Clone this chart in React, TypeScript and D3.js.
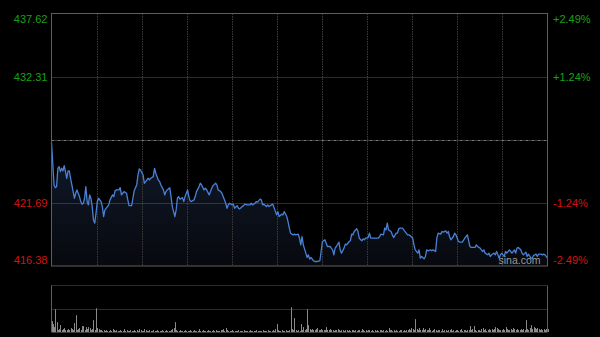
import React from "react";
import * as d3 from "d3";

const W = 600;
const H = 337;

const priceTicks = [437.62, 432.31, 427.0, 421.69, 416.38];
const leftLabels = ["437.62", "432.31", "", "421.69", "416.38"];
const rightLabels = ["+2.49%", "+1.24%", "", "-1.24%", "-2.49%"];
const prevClose = 427.0;

const times = [
  0, 2, 3, 4, 5, 6, 7, 8, 9, 10, 11, 12, 13, 14, 15, 16, 18, 19, 20, 22, 23, 24, 25, 26, 27, 28, 29, 30, 31, 32,
  33, 34, 35, 36, 37, 39, 40, 41, 42, 44, 45, 46, 48, 49, 50, 51, 53, 54, 55, 56, 57, 59, 60, 61, 63, 64, 65, 67, 68, 69,
  70, 72, 73, 74, 76, 77, 78, 80, 81, 82, 84, 85, 86, 88, 89, 90, 91, 93, 94, 95, 97, 98, 99, 100, 101, 103, 104, 105, 107, 108,
  109, 110, 112, 113, 114, 116, 117, 118, 120, 121, 122, 124, 125, 126, 127, 129, 130, 131, 133, 134, 135, 137, 138, 139, 140, 142, 143, 144, 146, 147,
  148, 150, 151, 152, 154, 156, 157, 158, 160, 161, 162, 164, 165, 166, 167, 169, 170, 171, 173, 174, 175, 177, 178, 179, 181, 182, 183, 185, 186, 187,
  188, 190, 191, 192, 194, 195, 196, 197, 198, 200, 201, 202, 203, 204, 206, 207, 209, 211, 212, 213, 215, 216, 217, 219, 220, 221, 222, 223, 224, 226,
  227, 228, 230, 231, 232, 234, 235, 236, 237, 238, 240, 241, 242, 244, 245, 246, 247, 249, 250, 251, 253, 254, 257, 258, 259, 261, 262, 263, 264, 265,
  267, 268, 269, 271, 272, 273, 274, 276, 277, 278, 280, 281, 282, 284, 285, 286, 288, 289, 290, 291, 293, 294, 295, 296, 298, 299, 300, 302, 303, 304,
  306, 307, 308, 310, 311, 312, 313, 314, 316, 317, 318, 320, 321, 323, 325, 326, 327, 329, 330, 333, 334, 335, 337, 338, 339, 340, 341, 343, 344, 345,
  346, 348, 349, 350, 352, 353, 354, 356, 357, 358, 360, 361, 362, 364, 365, 366, 367, 369, 370, 371, 373, 374, 375, 377, 378, 379, 381, 382, 383, 385,
  386, 387, 388, 390,
];

const prices = [
  426.79, 423.2, 422.97, 423.06, 424.6, 424.74, 424.32, 424.6, 424.38, 424.82, 424.32, 423.76, 424.38, 424.38, 423.76, 423.2, 422.08, 422.5, 422.78, 422.22, 421.8, 421.58, 421.66, 422.08, 423.06, 421.8, 421.52, 422.36, 422.08, 421.38,
  420.26, 419.98, 420.82, 421.8, 422.08, 421.8, 421.38, 420.54, 421.1, 421.38, 421.52, 421.94, 422.36, 422.22, 422.7, 422.78, 422.78, 422.97, 422.36, 422.5, 422.64, 422.5, 421.94, 421.46, 421.46, 422.08, 422.7, 423.2, 424.04, 424.54,
  424.46, 424.04, 423.34, 423.48, 423.76, 423.62, 423.76, 423.9, 424.6, 424.18, 423.62, 423.48, 423.2, 422.78, 422.36, 422.64, 422.78, 422.97, 422.22, 421.38, 420.54, 421.1, 422.08, 422.22, 422.0, 422.13, 421.8, 422.22, 422.78, 422.22,
  421.86, 421.8, 421.94, 422.22, 422.64, 423.06, 423.34, 423.2, 422.78, 422.92, 422.78, 422.36, 422.64, 422.92, 423.14, 423.34, 423.2, 422.78, 422.64, 422.5, 422.22, 421.66, 421.24, 421.52, 421.66, 421.52, 421.58, 421.24, 421.46, 421.24,
  421.19, 421.38, 421.46, 421.58, 421.52, 421.52, 421.66, 421.52, 421.66, 421.8, 421.75, 422.0, 421.94, 421.52, 421.58, 421.38, 421.52, 421.38, 421.52, 421.58, 421.29, 420.68, 420.96, 420.54, 420.74, 420.68, 420.96, 420.54, 420.12, 419.56,
  419.14, 419.0, 419.06, 419.0, 419.06, 418.72, 418.16, 418.86, 418.16, 417.46, 417.1, 417.32, 416.96, 417.1, 416.82, 416.76, 416.76, 416.82, 417.6, 418.44, 418.58, 418.3, 418.02, 418.02, 417.88, 417.74, 417.32, 417.88, 418.02, 418.39,
  417.74, 417.46, 417.88, 418.22, 418.16, 418.44, 418.5, 419.06, 419.0, 419.28, 419.51, 419.28, 418.72, 418.5, 418.67, 418.58, 418.72, 418.77, 419.14, 418.72, 418.72, 418.72, 418.72, 418.86, 419.06, 419.0, 419.56, 419.42, 419.98, 419.42,
  419.28, 419.0, 418.77, 419.14, 419.14, 419.51, 419.56, 419.56, 419.42, 419.28, 419.0, 419.0, 418.94, 418.72, 418.16, 417.74, 417.46, 417.74, 417.04, 417.18, 416.99, 417.18, 417.74, 417.66, 417.74, 417.66, 417.74, 417.6, 418.72, 419.14,
  419.06, 419.28, 419.23, 419.34, 419.14, 419.28, 418.86, 418.58, 418.86, 419.14, 419.0, 418.44, 418.39, 418.39, 418.72, 418.86, 419.0, 418.02, 417.94, 417.94, 418.16, 418.02, 417.88, 417.74, 417.6, 417.74, 417.46, 417.32, 417.46, 417.18,
  417.32, 417.46, 417.32, 417.6, 417.04, 417.32, 417.46, 417.18, 417.6, 417.46, 417.74, 417.6, 417.46, 417.74, 417.46, 417.88, 417.94, 417.74, 417.46, 417.32, 417.55, 417.18, 417.38, 417.04, 417.04, 417.26, 417.38, 417.18, 417.38, 417.38,
  417.32, 417.38, 417.32, 417.04,
];

// per-minute volume (relative units), minute 0..390
const volumes = [
  11, 8, 5, 23, 10, 2, 3, 7, 2, 3, 4, 2, 2, 3, 2, 4, 3, 2, 9, 17,
  2, 3, 4, 2, 6, 6, 2, 5, 3, 5, 4, 2, 3, 12, 2, 24, 4, 3, 2, 2,
  1, 2, 1, 2, 1, 1, 2, 1, 3, 2, 1, 2, 1, 1, 2, 1, 1, 3, 1, 2,
  1, 1, 2, 1, 1, 2, 1, 2, 1, 3, 2, 1, 1, 3, 2, 1, 1, 2, 1, 1,
  2, 1, 1, 2, 1, 1, 1, 2, 1, 1, 2, 1, 1, 1, 2, 3, 4, 10, 2, 1,
  1, 2, 1, 1, 1, 2, 1, 1, 1, 2, 1, 1, 2, 1, 1, 1, 3, 1, 1, 2,
  1, 1, 1, 2, 1, 1, 1, 2, 1, 2, 1, 1, 1, 2, 2, 3, 1, 4, 2, 1,
  1, 1, 2, 1, 1, 1, 1, 2, 1, 1, 1, 2, 1, 1, 1, 1, 2, 1, 1, 1,
  1, 2, 1, 1, 1, 1, 2, 1, 1, 1, 2, 1, 1, 1, 2, 1, 3, 8, 2, 1,
  1, 2, 1, 1, 2, 1, 1, 2, 25, 3, 2, 14, 2, 1, 2, 1, 8, 2, 5, 2,
  3, 23, 7, 3, 2, 3, 2, 2, 3, 4, 2, 2, 3, 2, 2, 2, 5, 2, 2, 3,
  2, 2, 1, 2, 2, 3, 2, 1, 2, 2, 1, 2, 2, 1, 2, 1, 2, 2, 1, 2,
  1, 2, 2, 1, 3, 2, 1, 2, 1, 2, 2, 1, 2, 1, 2, 1, 2, 1, 2, 2,
  1, 2, 1, 2, 1, 4, 2, 2, 1, 2, 1, 2, 1, 1, 2, 2, 1, 2, 1, 2,
  2, 3, 2, 4, 3, 2, 13, 3, 2, 4, 2, 2, 4, 2, 3, 2, 2, 4, 2, 1,
  2, 3, 2, 1, 2, 2, 1, 3, 1, 2, 2, 1, 2, 2, 3, 1, 2, 1, 2, 2,
  1, 2, 3, 1, 2, 2, 1, 2, 2, 6, 2, 3, 6, 2, 1, 2, 2, 1, 3, 4,
  2, 3, 1, 2, 3, 2, 3, 2, 3, 5, 4, 3, 2, 2, 2, 3, 2, 5, 3, 2,
  2, 3, 2, 4, 3, 2, 3, 2, 2, 3, 2, 3, 2, 12, 3, 2, 4, 7, 3, 5,
  4, 3, 4, 3, 2, 3, 2, 3, 2, 3, 3,
];
const volumeMax = 47;
const vColumns = 11;

export default function App() {
  const left = 51.5;
  const right = 547.5;
  const top = 13.5;
  const bottom = 266;
  const vTop = 285.5;
  const vBottom = 332;

  const x = d3.scaleLinear().domain([0, 390]).range([left, right]);
  const y = d3.scaleLinear().domain([416.38, 437.62]).range([bottom, top]);
  const yv = d3.scaleLinear().domain([0, volumeMax]).range([vBottom, vTop]);

  const pts = times.map((t, i) => [t, prices[i]] as [number, number]);
  const line = d3
    .line<[number, number]>()
    .x((d) => x(d[0]))
    .y((d) => y(d[1]));
  const area = d3
    .area<[number, number]>()
    .x((d) => x(d[0]))
    .y0(bottom)
    .y1((d) => y(d[1]));

  const colW = (right - left) / vColumns;
  const vLines = d3.range(1, vColumns).map((k) => Math.round(left + k * colW) + 0.5);

  const font = "Arial, 'Liberation Sans', Helvetica, sans-serif";

  return (
    <div style={{ position: "fixed", left: 0, top: 0, width: W, height: H, background: "#000" }}>
      <svg width={W} height={H} style={{ display: "block" }}>
        <defs>
          <linearGradient id="fillG" x1="0" y1="0" x2="0" y2="1">
            <stop offset="0%" stopColor="#111a2b" />
            <stop offset="100%" stopColor="#07090e" />
          </linearGradient>
        </defs>
        <rect x={0} y={0} width={W} height={H} fill="#000" />

        <path d={area(pts) || ""} fill="url(#fillG)" />

        {vLines.map((vx, i) => (
          <line key={"v" + i} x1={vx} x2={vx} y1={top} y2={bottom} stroke="#3c3c3c" strokeDasharray="1.5,1" />
        ))}
        {priceTicks.map((p, i) =>
          i === 0 || i === priceTicks.length - 1 ? null : (
            <line
              key={"h" + i}
              x1={left}
              x2={right}
              y1={Math.round(y(p)) + 0.5}
              y2={Math.round(y(p)) + 0.5}
              stroke={p === prevClose ? "#777" : "#5a5a5a"}
              strokeDasharray={p === prevClose ? "3,1,1,1" : "1,1"}
            />
          )
        )}

        <path d={line(pts) || ""} fill="none" stroke="#4a80d6" strokeWidth={1.3} strokeLinejoin="round" />

        <rect x={left} y={top} width={right - left} height={bottom - top} fill="none" stroke="#5e5e5e" strokeWidth={1} />

        {priceTicks.map((p, i) => {
          if (!leftLabels[i]) return null;
          const ly = y(p);
          const base = i === 0 ? ly + 9.5 : i === priceTicks.length - 1 ? ly - 2 : ly + 4;
          const col = p > prevClose ? "#18a018" : "#d01414";
          return (
            <g key={"l" + i}>
              <text x={47.5} y={base} textAnchor="end" fontSize={11} fontFamily={font} fill={col}>
                {leftLabels[i]}
              </text>
              <text x={553} y={base} textAnchor="start" fontSize={11} fontFamily={font} fill={col}>
                {rightLabels[i]}
              </text>
            </g>
          );
        })}

        <text x={498.5} y={264} fontSize={10.5} fontFamily={font} fill="#9a9a9a">
          sina.com
        </text>

        {/* volume panel */}
        <line x1={left} x2={right} y1={vTop} y2={vTop} stroke="#5a5a5a" strokeDasharray="1,1" />
        <line
          x1={left}
          x2={right}
          y1={Math.round(yv(volumeMax / 2)) + 0.5}
          y2={Math.round(yv(volumeMax / 2)) + 0.5}
          stroke="#5a5a5a"
          strokeDasharray="1,1"
        />
        {volumes.map((v, i) => (
          <line
            key={"b" + i}
            x1={Math.round(x(i)) + 0.5}
            x2={Math.round(x(i)) + 0.5}
            y1={vBottom}
            y2={yv(v)}
            stroke="#8a8a8a"
            strokeWidth={1}
          />
        ))}
        <line x1={left} x2={left} y1={vTop} y2={vBottom} stroke="#5e5e5e" />
        <line x1={right} x2={right} y1={vTop} y2={vBottom} stroke="#5e5e5e" />
        <line x1={left} x2={right} y1={vBottom + 0.5} y2={vBottom + 0.5} stroke="#3a3a3a" />
      </svg>
    </div>
  );
}
